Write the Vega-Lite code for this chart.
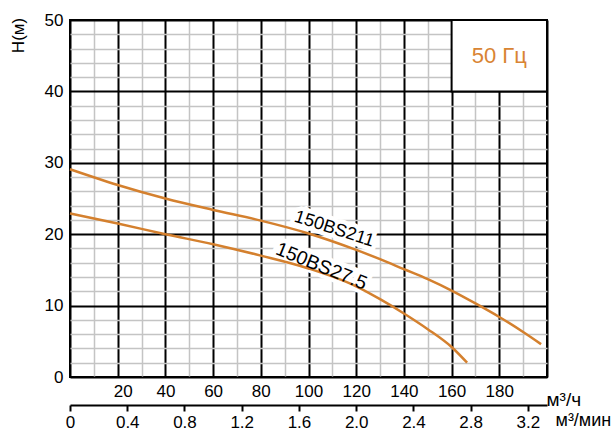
{
  "$schema": "https://vega.github.io/schema/vega-lite/v6.json",
  "width": 477,
  "height": 357,
  "autosize": "none",
  "padding": {"left": 70, "top": 20, "right": 67, "bottom": 55},
  "config": {
    "font": "Liberation Sans",
    "view": {"stroke": "#000000", "strokeWidth": 2}
  },
  "datasets": {
    "curves": [
      {"model": "150BS211", "q": 0, "h": 29.1},
      {"model": "150BS211", "q": 20, "h": 26.9},
      {"model": "150BS211", "q": 40, "h": 25.0},
      {"model": "150BS211", "q": 60, "h": 23.4},
      {"model": "150BS211", "q": 80, "h": 21.9},
      {"model": "150BS211", "q": 100, "h": 20.1},
      {"model": "150BS211", "q": 120, "h": 17.8},
      {"model": "150BS211", "q": 130, "h": 16.5},
      {"model": "150BS211", "q": 140, "h": 15.1},
      {"model": "150BS211", "q": 150, "h": 13.7},
      {"model": "150BS211", "q": 160, "h": 12.1},
      {"model": "150BS211", "q": 170, "h": 10.3},
      {"model": "150BS211", "q": 180, "h": 8.4},
      {"model": "150BS211", "q": 190, "h": 6.3},
      {"model": "150BS211", "q": 197.5, "h": 4.6},
      {"model": "150BS27.5", "q": 0, "h": 22.9},
      {"model": "150BS27.5", "q": 20, "h": 21.5},
      {"model": "150BS27.5", "q": 40, "h": 20.0},
      {"model": "150BS27.5", "q": 60, "h": 18.6},
      {"model": "150BS27.5", "q": 80, "h": 17.0},
      {"model": "150BS27.5", "q": 100, "h": 15.2},
      {"model": "150BS27.5", "q": 120, "h": 12.7},
      {"model": "150BS27.5", "q": 130, "h": 10.9},
      {"model": "150BS27.5", "q": 140, "h": 8.9},
      {"model": "150BS27.5", "q": 150, "h": 6.7},
      {"model": "150BS27.5", "q": 160, "h": 4.2},
      {"model": "150BS27.5", "q": 166.5, "h": 2.0}
    ],
    "labels": [
      {"label": "150BS211", "q": 110.8, "h": 20.7},
      {"label": "150BS27.5", "q": 105.4, "h": 15.5}
    ]
  },
  "layer": [
    {
      "layer": [
        {
          "data": {"name": "labels"},
          "transform": [{"filter": "datum.label === '150BS211'"}],
          "mark": {"type": "text", "fontSize": 18, "angle": 18, "stroke": "white", "strokeWidth": 9, "fill": "white", "align": "center", "baseline": "middle"},
          "encoding": {
            "x": {
              "field": "q", "type": "quantitative",
              "scale": {"domain": [0, 200], "nice": false, "zero": false},
              "axis": {
                "orient": "bottom",
                "values": [0, 10, 20, 30, 40, 50, 60, 70, 80, 90, 100, 110, 120, 130, 140, 150, 160, 170, 180, 190, 200],
                "tickCount": 200,
                "format": "d",
                "grid": true,
                "gridColor": {"condition": {"test": "datum.value % 20 === 0", "value": "#000000"}, "value": "#c4c4c4"},
                "gridWidth": {"condition": {"test": "datum.value % 20 === 0", "value": 2}, "value": 1.5},
                "gridOpacity": 1,
                "ticks": false,
                "domain": false,
                "labelExpr": "datum.value % 20 === 0 && datum.value > 0 && datum.value < 200 ? datum.label : ''",
                "labelFontSize": 17,
                "labelColor": "#000000",
                "labelPadding": 6,
                "labelFlush": false,
                "labelOverlap": false,
                "labelOffset": {"condition": {"test": "datum.value === 20", "value": 5}, "value": 0},
                "title": "м³/ч",
                "titleX": 476,
                "titleY": 22,
                "titleAlign": "left",
                "titleAnchor": "start",
                "titleBaseline": "middle",
                "titleFontSize": 19,
                "titleFontWeight": "normal",
                "titleColor": "#000000"
              }
            },
            "y": {
              "field": "h", "type": "quantitative",
              "scale": {"domain": [0, 50], "nice": false, "zero": false},
              "axis": {
                "orient": "left",
                "values": [0, 2, 4, 6, 8, 10, 12, 14, 16, 18, 20, 22, 24, 26, 28, 30, 32, 34, 36, 38, 40, 42, 44, 46, 48, 50],
                "tickCount": 200,
                "format": "d",
                "grid": true,
                "gridColor": {"condition": {"test": "datum.value % 10 === 0", "value": "#000000"}, "value": "#c4c4c4"},
                "gridWidth": {"condition": {"test": "datum.value % 10 === 0", "value": 2}, "value": 1.5},
                "gridOpacity": 1,
                "ticks": false,
                "domain": false,
                "labelExpr": "datum.value % 10 === 0 ? datum.label : ''",
                "labelFontSize": 17,
                "labelColor": "#000000",
                "labelPadding": 7,
                "labelOverlap": false,
                "title": "H(м)",
                "titleX": -52,
                "titleY": 15,
                "titleAngle": -90,
                "titleAlign": "center",
                "titleBaseline": "middle",
                "titleFontSize": 17,
                "titleFontWeight": "normal",
                "titleColor": "#000000"
              }
            },
            "text": {"field": "label", "type": "nominal"}
          }
        },
        {
          "data": {"name": "labels"},
          "transform": [{"filter": "datum.label === '150BS27.5'"}],
          "mark": {"type": "text", "fontSize": 19.5, "angle": 22, "stroke": "white", "strokeWidth": 9, "fill": "white", "align": "center", "baseline": "middle"},
          "encoding": {
            "x": {"field": "q", "type": "quantitative"},
            "y": {"field": "h", "type": "quantitative"},
            "text": {"field": "label", "type": "nominal"}
          }
        },
        {
          "data": {"values": [{"note": "50 Гц"}]},
          "mark": {"type": "rect", "fill": "white", "stroke": "#000000", "strokeWidth": 2},
          "encoding": {
            "x": {"datum": 160, "type": "quantitative"},
            "x2": {"datum": 200},
            "y": {"datum": 40, "type": "quantitative"},
            "y2": {"datum": 50}
          }
        },
        {
          "data": {"name": "curves"},
          "mark": {"type": "line", "interpolate": "monotone", "color": "#D4802E", "strokeWidth": 2.5},
          "encoding": {
            "x": {"field": "q", "type": "quantitative"},
            "y": {"field": "h", "type": "quantitative"},
            "detail": {"field": "model", "type": "nominal"}
          }
        },
        {
          "data": {"name": "labels"},
          "transform": [{"filter": "datum.label === '150BS211'"}],
          "mark": {"type": "text", "fontSize": 18, "angle": 18, "color": "#000000", "align": "center", "baseline": "middle"},
          "encoding": {
            "x": {"field": "q", "type": "quantitative"},
            "y": {"field": "h", "type": "quantitative"},
            "text": {"field": "label", "type": "nominal"}
          }
        },
        {
          "data": {"name": "labels"},
          "transform": [{"filter": "datum.label === '150BS27.5'"}],
          "mark": {"type": "text", "fontSize": 19.5, "angle": 22, "color": "#000000", "align": "center", "baseline": "middle"},
          "encoding": {
            "x": {"field": "q", "type": "quantitative"},
            "y": {"field": "h", "type": "quantitative"},
            "text": {"field": "label", "type": "nominal"}
          }
        },
        {
          "data": {"values": [{"note": "50 Гц"}]},
          "mark": {"type": "text", "fontSize": 22, "color": "#D98433", "align": "center", "baseline": "middle"},
          "encoding": {
            "x": {"datum": 180, "type": "quantitative"},
            "y": {"datum": 45, "type": "quantitative"},
            "text": {"field": "note", "type": "nominal"}
          }
        }
      ]
    },
    {
      "data": {"values": [{"v": 0}]},
      "mark": {"type": "point", "opacity": 0},
      "encoding": {
        "x": {
          "field": "v", "type": "quantitative",
          "scale": {"domain": [0, 3.333333], "nice": false, "zero": false},
          "axis": {
            "orient": "bottom",
            "offset": 28,
            "values": [0, 0.4, 0.8, 1.2, 1.6, 2.0, 2.4, 2.8, 3.2],
            "tickCount": 100,
            "grid": false,
            "domain": true,
            "domainColor": "#000000",
            "domainWidth": 2,
            "ticks": true,
            "tickColor": "#000000",
            "tickWidth": 2,
            "tickSize": 6,
            "labelExpr": "datum.value === 0 ? '0' : format(datum.value, '.1f')",
            "labelFontSize": 17,
            "labelColor": "#000000",
            "labelPadding": 3,
            "labelFlush": false,
            "labelOverlap": false,
            "title": "м³/мин",
            "titleX": 485,
            "titleY": 15,
            "titleAlign": "left",
            "titleAnchor": "start",
            "titleBaseline": "middle",
            "titleFontSize": 18,
            "titleFontWeight": "normal",
            "titleColor": "#000000"
          }
        }
      }
    }
  ],
  "resolve": {"scale": {"x": "independent"}}
}
